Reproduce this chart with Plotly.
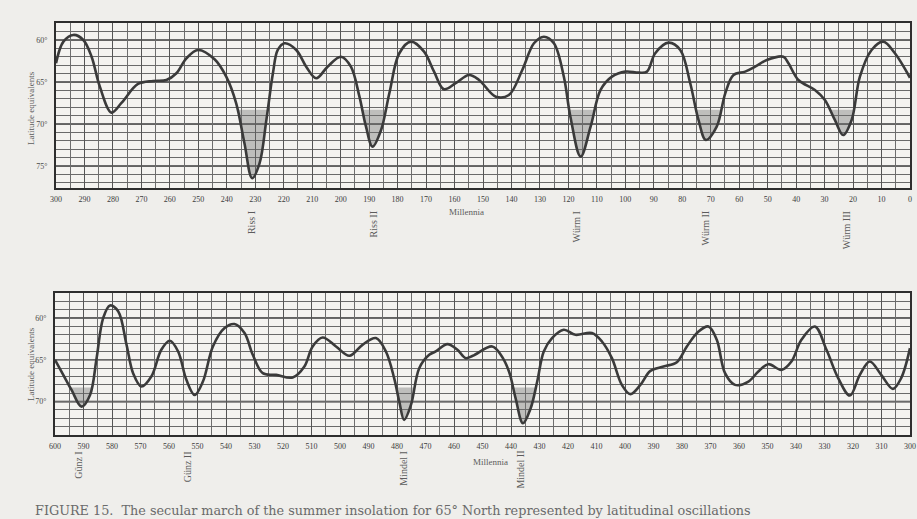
import plotly.graph_objects as go

# ---------------- data ----------------
# upper panel: 300 000 years ago -> present (millennia), latitude equivalents (deg)
top_ka = [300.0, 297.4, 293.9, 290.4, 287.5, 284.6, 280.5, 277.0, 271.2, 265.9, 261.2, 257.7,
          254.2, 250.1, 244.3, 240.2, 236.7, 233.8, 231.1, 228.5, 226.1, 223.8, 222.1, 219.7,
          215.6, 212.1, 208.6, 204.6, 199.9, 196.4, 193.4, 191.1, 188.8, 185.8, 182.9, 179.4,
          175.3, 170.7, 167.2, 163.7, 159.6, 154.9, 151.4, 145.5, 140.9, 136.2, 132.1, 128.6,
          125.1, 121.6, 119.3, 115.7, 112.2, 108.7, 104.7, 100.0, 95.3, 92.4, 89.5, 84.8,
          80.7, 77.2, 74.3, 71.7, 67.9, 64.9, 62.0, 57.9, 54.4, 50.3, 44.5, 42.7,
          39.2, 33.4, 29.9, 26.4, 23.5, 20.5, 17.6, 13.5, 9.4, 5.3, 0.0]
top_lat = [62.77, 60.20, 59.40, 60.00, 61.99, 65.56, 68.65, 67.50, 65.24, 64.88, 64.76, 63.96,
           62.18, 61.19, 62.30, 64.37, 67.54, 72.30, 76.46, 74.68, 69.52, 63.96, 61.19, 60.39,
           61.19, 63.18, 64.56, 63.18, 61.99, 63.18, 66.75, 70.32, 72.70, 70.71, 66.35, 61.58,
           60.20, 61.39, 63.77, 65.87, 65.15, 64.17, 64.76, 66.75, 66.55, 63.57, 60.39, 59.61,
           60.39, 64.37, 69.13, 73.89, 70.32, 65.95, 64.37, 63.77, 63.89, 63.77, 61.58, 60.32,
           61.19, 65.15, 69.52, 71.90, 70.32, 66.35, 64.17, 63.77, 63.18, 62.38, 61.99, 62.77,
           64.76, 65.95, 67.14, 69.52, 71.31, 69.52, 64.37, 61.19, 60.20, 61.58, 64.50]

# lower panel: 600 000 -> 300 000 years ago
bot_ka = [600.0, 597.1, 594.2, 590.7, 587.7, 585.4, 583.1, 580.7, 577.8, 574.9, 572.6, 569.7,
          566.2, 562.7, 559.7, 556.8, 553.9, 551.0, 548.1, 544.6, 540.5, 537.0, 533.5, 530.6,
          527.1, 522.4, 516.6, 512.5, 509.6, 506.1, 501.4, 496.7, 492.1, 487.4, 483.9, 481.0,
          479.2, 477.5, 475.1, 472.2, 468.7, 466.4, 462.3, 458.8, 455.9, 453.4, 446.6, 443.6,
          440.7, 438.4, 435.8, 433.1, 430.8, 428.5, 425.6, 421.5, 417.4, 411.6, 408.1, 404.6,
          401.1, 398.1, 394.6, 391.1, 386.5, 381.8, 378.3, 374.2, 370.7, 367.8, 364.9, 361.4,
          356.7, 353.2, 349.7, 345.1, 341.6, 338.1, 333.4, 329.3, 325.2, 321.1, 317.6, 314.1,
          310.1, 306.0, 303.1, 300.0]
bot_lat = [65.00, 66.80, 68.60, 70.60, 69.20, 64.80, 60.00, 58.49, 59.21, 63.20, 66.60, 68.20,
           67.00, 63.80, 62.72, 64.00, 67.40, 69.20, 67.60, 63.40, 61.20, 60.72, 61.80, 64.40,
           66.60, 66.80, 67.12, 65.80, 63.40, 62.33, 63.40, 64.52, 63.20, 62.40, 64.00, 67.19,
           70.00, 72.19, 70.40, 66.00, 64.40, 64.00, 63.12, 63.80, 64.80, 64.52, 63.40, 64.40,
           66.40, 69.59, 72.59, 70.79, 67.60, 64.00, 62.40, 61.40, 62.00, 61.80, 62.81, 64.80,
           68.00, 69.11, 68.00, 66.32, 65.80, 65.28, 63.40, 61.61, 61.01, 62.60, 66.60, 68.00,
           67.60, 66.40, 65.52, 66.20, 65.20, 62.60, 61.01, 63.80, 67.19, 69.28, 66.80, 65.20,
           66.80, 68.48, 67.19, 63.60]

top_xticks = list(range(300, -1, -10))
bot_xticks = list(range(600, 299, -10))
top_yticks = [60, 65, 70, 75]
bot_yticks = [60, 65, 70]

top_glac = ["Riss I", "Riss II", "Würm I", "Würm II", "Würm III"]
top_glac_ka = [231.3, 188.5, 117.0, 72.0, 22.4]
top_shaded = [True, True, True, True, True]
bot_glac = ["Günz I", "Günz II", "Mindel I", "Mindel II"]
bot_glac_ka = [592.0, 553.4, 477.8, 437.0]
bot_shaded = [True, False, True, True]
threshold = 68.3

caption = ("FIGURE 15.  The secular march of the summer insolation for 65° North "
           "represented by latitudinal oscillations")

# ---------------- figure ----------------
W, H = 917, 519
X0T, X1T = 56, 910
X0B, X1B = 55, 910
BG = "#efeeeb"
def px(x):
    return x / W
def py(y):
    return (H - y) / H

LINE = "#3a3a3a"
GRID = "#555555"
SHADE = "rgba(110,110,110,0.40)"
TXT = "#5c5c5c"
SERIF = "Liberation Serif"

fig = go.Figure()


def add_shading(ka, lat, centre, xa, ya, half=12):
    idx = [i for i in range(len(ka)) if abs(ka[i] - centre) <= half]
    imax = max(idx, key=lambda i: lat[i])
    if lat[imax] <= threshold:
        return
    jl = imax
    while jl - 1 >= 0 and lat[jl - 1] > threshold:
        jl -= 1
    jr = imax
    while jr + 1 < len(ka) and lat[jr + 1] > threshold:
        jr += 1
    def cross(a, b):
        t = (threshold - lat[a]) / (lat[b] - lat[a])
        return ka[a] + t * (ka[b] - ka[a])
    kl = cross(jl - 1, jl)
    kr = cross(jr, jr + 1)
    xs = [kl] + ka[jl:jr + 1] + [kr]
    ys = [threshold] + lat[jl:jr + 1] + [threshold]
    fig.add_trace(go.Scatter(x=[kl, kr], y=[threshold, threshold], mode="lines",
                             line=dict(width=0, color=SHADE), xaxis=xa, yaxis=ya,
                             showlegend=False, hoverinfo="skip"))
    fig.add_trace(go.Scatter(x=xs, y=ys, mode="lines", fill="tonexty", fillcolor=SHADE,
                             line=dict(width=0, shape="spline", color=SHADE),
                             xaxis=xa, yaxis=ya, showlegend=False, hoverinfo="skip"))


for c, s in zip(top_glac_ka, top_shaded):
    if s:
        add_shading(top_ka, top_lat, c, "x", "y")
for c, s in zip(bot_glac_ka, bot_shaded):
    if s:
        add_shading(bot_ka, bot_lat, c, "x2", "y2")

fig.add_trace(go.Scatter(x=top_ka, y=top_lat, mode="lines", xaxis="x", yaxis="y",
                         line=dict(color=LINE, width=2.6, shape="spline", smoothing=1.0),
                         showlegend=False))
fig.add_trace(go.Scatter(x=bot_ka, y=bot_lat, mode="lines", xaxis="x2", yaxis="y2",
                         line=dict(color=LINE, width=2.6, shape="spline", smoothing=1.0),
                         showlegend=False))

# major horizontal lines (5 degrees)
for yv in top_yticks:
    fig.add_shape(type="line", xref="x", yref="y", x0=300, x1=0, y0=yv, y1=yv,
                  line=dict(color="#333333", width=1.6), layer="below")
for yv in bot_yticks:
    fig.add_shape(type="line", xref="x2", yref="y2", x0=600, x1=300, y0=yv, y1=yv,
                  line=dict(color="#333333", width=1.6), layer="below")

xcommon = dict(showgrid=True, gridcolor=GRID, gridwidth=1.0, dtick=10, automargin=False,
               minor=dict(dtick=5, showgrid=True, gridcolor="#6e6e6e", gridwidth=0.8),
               showline=True, linecolor="#2e2e2e", linewidth=1.8, mirror=True,
               ticks="", zeroline=False, ticklabelstandoff=2,
               tickfont=dict(family=SERIF, size=8, color="#3c3c3c"))
ycommon = dict(showgrid=False, automargin=False,
               minor=dict(dtick=1, showgrid=True, gridcolor="#6a6a6a", gridwidth=0.8),
               showline=True, linecolor="#2e2e2e", linewidth=1.8, mirror=True,
               ticks="", zeroline=False, ticklabelstandoff=5,
               tickfont=dict(family=SERIF, size=8, color="#4a4a4a"))

fig.update_layout(
    width=W, height=H,
    margin=dict(l=0, r=0, t=0, b=0),
    paper_bgcolor=BG,
    plot_bgcolor="#f4f3f0",
    xaxis=dict(xcommon, domain=[px(X0T), px(X1T)], range=[300, 0], anchor="y",
               tickvals=top_xticks),
    yaxis=dict(ycommon, domain=[py(188), py(23)], range=[77.62, 57.98], anchor="x",
               tickvals=top_yticks, ticktext=[f"{v}°" for v in top_yticks]),
    xaxis2=dict(xcommon, domain=[px(X0B), px(X1B)], range=[600, 300], anchor="y2",
                tickvals=bot_xticks),
    yaxis2=dict(ycommon, domain=[py(435), py(293)], range=[74.0, 57.0], anchor="x2",
                tickvals=bot_yticks, ticktext=[f"{v}°" for v in bot_yticks]),
)

ann = []
for name, k in zip(top_glac, top_glac_ka):
    xp = X0T + (300 - k) / 300 * (X1T - X0T)
    ann.append(dict(x=px(xp), y=py(209), xref="paper", yref="paper", text=name,
                    textangle=-90, showarrow=False, xanchor="center", yanchor="top",
                    font=dict(family=SERIF, size=10, color=TXT)))
for name, k in zip(bot_glac, bot_glac_ka):
    xp = X0B + (600 - k) / 300 * (X1B - X0B)
    ann.append(dict(x=px(xp), y=py(449), xref="paper", yref="paper", text=name,
                    textangle=-90, showarrow=False, xanchor="center", yanchor="top",
                    font=dict(family=SERIF, size=10, color=TXT)))
ann.append(dict(x=px(466), y=py(212), xref="paper", yref="paper", text="Millennia",
                showarrow=False, xanchor="center", yanchor="middle",
                font=dict(family=SERIF, size=9, color=TXT)))
ann.append(dict(x=px(490), y=py(462), xref="paper", yref="paper", text="Millennia",
                showarrow=False, xanchor="center", yanchor="middle",
                font=dict(family=SERIF, size=9, color=TXT)))
ann.append(dict(x=px(31), y=py(108), xref="paper", yref="paper", text="Latitude equivalents",
                textangle=-90, showarrow=False, xanchor="center", yanchor="middle",
                font=dict(family=SERIF, size=9, color=TXT)))
ann.append(dict(x=px(31), y=py(364), xref="paper", yref="paper", text="Latitude equivalents",
                textangle=-90, showarrow=False, xanchor="center", yanchor="middle",
                font=dict(family=SERIF, size=9, color=TXT)))
ann.append(dict(x=px(33), y=py(510), xref="paper", yref="paper", text=caption,
                showarrow=False, xanchor="left", yanchor="middle",
                font=dict(family="DejaVu Serif", size=12.8, color="#6a6a6a")))
fig.update_layout(annotations=ann)

page_css = ("document.body.style.margin='0';document.body.style.padding='0';"
            "document.body.style.overflow='hidden';"
            "document.body.style.background='" + BG + "';")
fig.write_html("out.html", post_script=page_css, config={"displayModeBar": False})
